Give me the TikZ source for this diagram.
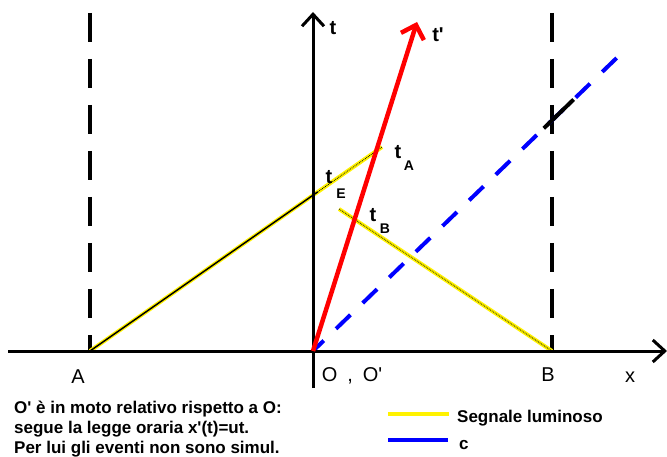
\documentclass[tikz,border=0pt]{standalone}
\usepackage{fontspec}
\setmainfont{Liberation Sans}
\usepackage{xcolor}
\usetikzlibrary{arrows.meta,calc}

\newcommand{\pr}{\textquotesingle}

\begin{document}
\begin{tikzpicture}[
    x=1pt, y=-1pt,
    axis/.style={line width=3pt, black},
    axisarr/.style={axis, -{Straight Barb[length=12pt, width=22pt]}},
    wall/.style={line width=4.5pt, black, dash pattern=on 29pt off 17pt},
    ray/.style={line width=4pt, yellow},
    rayedge/.style={line width=0.8pt, black, densely dotted},
    cline/.style={line width=4pt, blue, dash pattern=on 20pt off 17pt, dash phase=-32pt},
    world/.style={line width=4.5pt, red, -{Straight Barb[length=12pt, width=24pt]}},
    lbl/.style={inner sep=0pt, font=\fontsize{20}{24}\selectfont},
    tlbl/.style={inner sep=0pt, font=\fontsize{20}{24}\selectfont\bfseries},
    sub/.style={inner sep=0pt, font=\fontsize{14}{16}\selectfont\bfseries},
    note/.style={inner sep=0pt, anchor=base west, font=\fontsize{17}{20}\selectfont\bfseries},
]
\useasboundingbox (0,0) rectangle (667,457);

% points
\coordinate (xStart) at (8,351);
\coordinate (xEnd) at (667,351);
\coordinate (O) at (313,351);
\coordinate (tTop) at (313,12);
\coordinate (tBot) at (313,388);
\coordinate (A) at (90,351);
\coordinate (Atop) at (90,13);
\coordinate (B) at (552,351);
\coordinate (Btop) at (552,13);
\coordinate (evA) at (382,147);
\coordinate (evB) at (339,209);
\coordinate (tpTop) at (417,22);
\coordinate (cEnd) at (627,48);

% walls
\draw[wall] (Atop) -- (A);
\draw[wall] (Btop) -- (B);

% light signals
\draw[ray] (A) -- (evA);
\draw[ray] (B) -- (evB);
\draw[line width=1.5pt, black, yshift=1pt] (A) -- ($(A)!0.78!(evA)$);
\draw[rayedge, yshift=2pt] ($(A)!0.78!(evA)$) -- (evA);
\draw[rayedge, yshift=2pt] (evB) -- (B);

% c line
\draw[cline] (O) -- (cEnd);
\draw[line width=4pt, black] ($(O)!0.735!(cEnd)$) -- ($(O)!0.83!(cEnd)$);

% axes
\draw[axisarr] (xStart) -- (xEnd);
\draw[axisarr] (tBot) -- (tTop);

% world line of O'
\draw[world] (O) -- (tpTop);

% labels
\node[tlbl] (tLbl) at (333,28) {t};
\node[tlbl] (tpLbl) at (438,35) {t\pr};
\node[tlbl] (tA) at (398,152) {t};
\node[sub] (tAsub) at (409,166) {A};
\node[tlbl] (tE) at (329,177) {t};
\node[sub] (tEsub) at (341,194) {E};
\node[tlbl] (tB) at (373,215) {t};
\node[sub] (tBsub) at (385,229) {B};
\node[lbl] (Albl) at (78,377) {A};
\node[lbl] (Olbl) at (352,376) {O\enspace,\enspace O\pr};
\node[lbl] (Blbl) at (548,375) {B};
\node[lbl] (xLbl) at (630,377) {x};

% notes
\node[note] (note1) at (14,413) {O\pr{} è in moto relativo rispetto a O:};
\node[note] (note2) at (14,433) {segue la legge oraria x\pr(t)=ut.};
\node[note] (note3) at (14,453) {Per lui gli eventi non sono simul.};

% legend
\coordinate (legY1) at (388,414);
\coordinate (legY2) at (449,414);
\coordinate (legC1) at (388,440);
\coordinate (legC2) at (448,440);
\draw[ray] (legY1) -- (legY2);
\draw[line width=4pt, blue] (legC1) -- (legC2);
\node[note, anchor=west] (legY) at (457,418) {Segnale luminoso};
\node[note, anchor=west] (legC) at (459,445) {c};

\end{tikzpicture}
\end{document}
